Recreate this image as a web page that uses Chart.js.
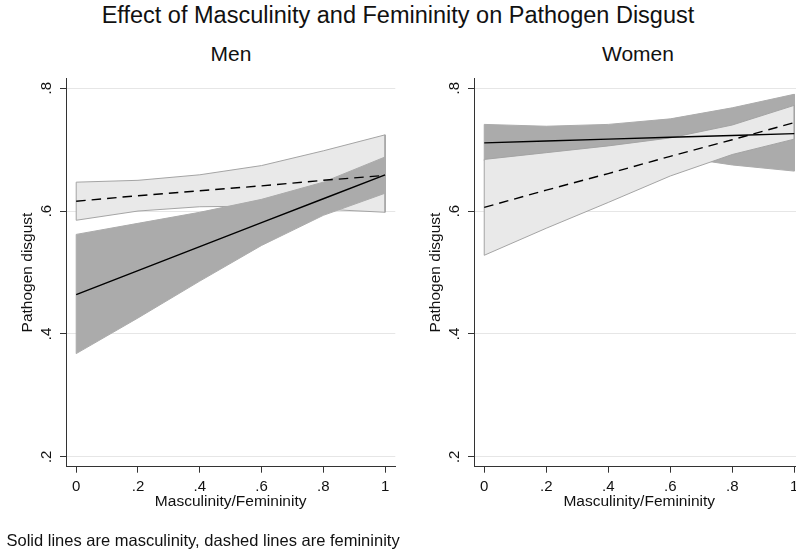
<!DOCTYPE html>
<html>
<head>
<meta charset="utf-8">
<script src="https://cdn.jsdelivr.net/npm/chart.js@4.4.1/dist/chart.umd.min.js"></script>
<style>
  body { margin: 0; width: 796px; height: 552px; overflow: hidden; background: #fff; position: relative;
         font-family: "Liberation Sans", Arial, sans-serif; color: #111; }
  .txt { position: absolute; white-space: nowrap; }
  #title { left: 0; top: 1.4px; width: 796px; text-align: center; font-size: 23.5px; line-height: 28px; }
  .panel { width: 200px; text-align: center; font-size: 21px; line-height: 24px; top: 42.4px; }
  #menTitle { left: 131px; }
  #womenTitle { left: 538px; }
  #note { left: 6.5px; top: 530.3px; font-size: 16.5px; line-height: 20px; }
  canvas { position: absolute; top: 0; }
  #men { left: 0; }
  #women { left: 408px; }
</style>
</head>
<body>
<div id="title" class="txt">Effect of Masculinity and Femininity on Pathogen Disgust</div>
<div id="menTitle" class="txt panel">Men</div>
<div id="womenTitle" class="txt panel">Women</div>
<canvas id="men" width="400" height="552"></canvas>
<canvas id="women" width="400" height="552"></canvas>
<div id="note" class="txt">Solid lines are masculinity, dashed lines are femininity</div>
<script>
const xValues = [0, 0.2, 0.4, 0.6, 0.8, 1];
const xTicks = [0, 0.2, 0.4, 0.6, 0.8, 1];
const xTickLabels = ["0", ".2", ".4", ".6", ".8", "1"];
const yTicks = [0.2, 0.4, 0.6, 0.8];
const yTickLabels = [".2", ".4", ".6", ".8"];

// men: masculinity (solid) and femininity (dashed) with 95% bands
const menMascFit = [0.464, 0.503, 0.542, 0.581, 0.620, 0.659];
const menMascUpper = [0.562, 0.580, 0.598, 0.619, 0.647, 0.688];
const menMascLower = [0.368, 0.426, 0.486, 0.544, 0.593, 0.629];
const menFemFit = [0.616, 0.625, 0.633, 0.641, 0.650, 0.658];
const menFemUpper = [0.647, 0.650, 0.659, 0.674, 0.698, 0.724];
const menFemLower = [0.585, 0.600, 0.607, 0.608, 0.603, 0.598];

// women
const womenMascFit = [0.711, 0.714, 0.717, 0.720, 0.723, 0.726];
const womenMascUpper = [0.741, 0.738, 0.741, 0.750, 0.768, 0.790];
const womenMascLower = [0.682, 0.690, 0.693, 0.690, 0.675, 0.665];
const womenFemFit = [0.606, 0.634, 0.661, 0.689, 0.716, 0.744];
const womenFemUpper = [0.684, 0.695, 0.706, 0.719, 0.740, 0.772];
const womenFemLower = [0.528, 0.572, 0.614, 0.657, 0.692, 0.717];

const DARK = "#ababab";
const LIGHT = "#e9e9e9";
const OUTLINE = "#a4a4a4";
const AXIS = "#333333";
const GRID = "#e6e6e6";
const TEXT = "#111111";

Chart.defaults.font.family = '"Liberation Sans", Arial, sans-serif';
Chart.defaults.color = TEXT;

function bandPoints(upper, lower) {
  const pts = xValues.map((x, i) => ({ x, y: upper[i] }));
  for (let i = xValues.length - 1; i >= 0; i--) {
    pts.push({ x: xValues[i], y: lower[i] });
  }
  pts.push(pts[0]);
  return pts;
}

function linePoints(values) {
  return xValues.map((x, i) => ({ x, y: values[i] }));
}

function band(upper, lower, color, border, order) {
  return {
    data: bandPoints(upper, lower),
    fill: "shape",
    backgroundColor: color,
    borderColor: border,
    borderWidth: 1,
    pointRadius: 0,
    order,
  };
}

function fit(values, dashed, order) {
  return {
    data: linePoints(values),
    fill: false,
    borderColor: "#000",
    borderWidth: 1.4,
    borderDash: dashed ? [9.5, 6] : [],
    pointRadius: 0,
    order,
  };
}

function makeChart(id, datasets, rightPad) {
  return new Chart(document.getElementById(id), {
    type: "line",
    data: { datasets },
    options: {
      responsive: false,
      animation: false,
      devicePixelRatio: 1,
      layout: { padding: { top: 78.3, bottom: 35.3, left: 0, right: rightPad } },
      plugins: { legend: { display: false }, tooltip: { enabled: false } },
      elements: { line: { tension: 0 } },
      scales: {
        x: {
          type: "linear",
          min: -0.033,
          max: 1.033,
          afterBuildTicks: (s) => { s.ticks = xTicks.map((v) => ({ value: v })); },
          afterFit: (s) => { s.height = 50; },
          ticks: {
            callback: (v, i) => xTickLabels[i],
            autoSkip: false,
            maxRotation: 0,
            padding: 5.5,
            font: { size: 15 },
          },
          grid: { drawOnChartArea: false, tickLength: 6, tickColor: AXIS },
          border: { color: AXIS },
          title: {
            display: true,
            text: "Masculinity/Femininity",
            font: { size: 15.5 },
            padding: { top: 0, bottom: 5.7 },
          },
        },
        y: {
          type: "linear",
          min: 0.184,
          max: 0.816,
          afterBuildTicks: (s) => { s.ticks = yTicks.map((v) => ({ value: v })); },
          afterFit: (s) => { s.width = 66; },
          ticks: {
            callback: (v, i) => yTickLabels[i],
            minRotation: 90,
            maxRotation: 90,
            crossAlign: "center",
            padding: 7,
            font: { size: 15 },
          },
          grid: { color: GRID, tickLength: 6, tickColor: AXIS },
          border: { color: AXIS },
          title: {
            display: true,
            text: "Pathogen disgust",
            font: { size: 15.5 },
            padding: { top: 18.5, bottom: 0 },
          },
        },
      },
    },
  });
}

makeChart("men", [
  band(menFemUpper, menFemLower, LIGHT, OUTLINE, 4),
  band(menMascUpper, menMascLower, DARK, DARK, 3),
  fit(menFemFit, true, 2),
  fit(menMascFit, false, 1),
], 4.7);

makeChart("women", [
  band(womenMascUpper, womenMascLower, DARK, DARK, 4),
  band(womenFemUpper, womenFemLower, LIGHT, OUTLINE, 3),
  fit(womenMascFit, false, 2),
  fit(womenFemFit, true, 1),
], 3.5);
</script>
</body>
</html>
